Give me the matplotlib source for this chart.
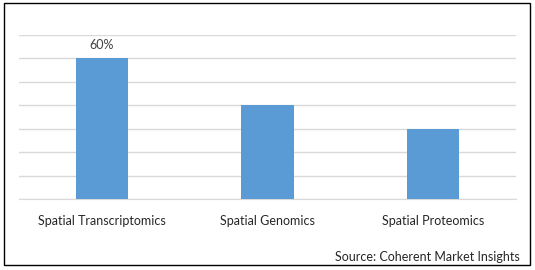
import matplotlib
matplotlib.use("Agg")
import matplotlib.pyplot as plt
from matplotlib.patches import Rectangle
from matplotlib.ticker import MultipleLocator

categories = ["Spatial Transcriptomics", "Spatial Genomics", "Spatial Proteomics"]
shares = [60, 40, 30]
labels = ["60%", "", ""]

plt.rcParams["font.family"] = ["Lato", "DejaVu Sans"]

fig = plt.figure(figsize=(5.35, 2.7), dpi=100)
ax = fig.add_axes([19 / 535, 1 - 199 / 270, 497 / 535, 164 / 270])

x = range(len(categories))
bars = ax.bar(x, shares, width=0.314, color="#5B9BD5", zorder=3)
for b, lab in zip(bars, labels):
    if lab:
        ax.text(b.get_x() + b.get_width() / 2, b.get_height() + 3.3, lab,
                ha="center", va="bottom", fontsize=9, color="#404040")

ax.set_xlim(-0.5, 2.5)
ax.set_ylim(0, 70)
ax.yaxis.set_major_locator(MultipleLocator(10))
ax.grid(axis="y", color="#D9D9D9", linewidth=1)
ax.tick_params(left=False, bottom=False, labelleft=False)
ax.set_xticks(list(x))
ax.set_xticklabels(categories, fontsize=9, color="#262626")
ax.tick_params(axis="x", pad=8)
for s in ["top", "right", "left"]:
    ax.spines[s].set_visible(False)
ax.spines["bottom"].set_color("#D9D9D9")

fig.text(520 / 535, 1 - 257 / 270, "Source: Coherent Market Insights",
         ha="right", va="center", fontsize=9, color="#262626")

fig.patches.append(Rectangle((4 / 535, 1 - 265 / 270), 526 / 535, 262 / 270,
                             transform=fig.transFigure, fill=False,
                             edgecolor="black", linewidth=1))

fig.savefig("out.png", dpi=100)
